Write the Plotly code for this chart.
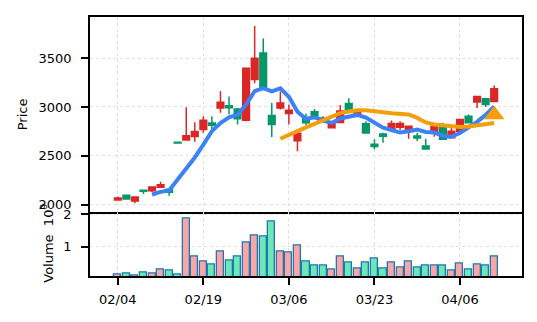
import plotly.graph_objects as go
from plotly.subplots import make_subplots
import pandas as pd

# ---- data ----
idx = list(range(45))
tick_pos = [0, 10, 20, 30, 40]
tick_labels = ["02/04", "02/19", "03/06", "03/23", "04/06"]

opens = [2050, 2098, 2040, 2150, 2145, 2180, 2160, 2640, 2662, 2697,
         2770, 2835, 2990, 3012, 2980, 2865, 3280, 3550, 2912, 2990,
         2933, 2655, 2888, 2950, 2888, 2787, 2840, 3035, 2916, 2828,
         2618, 2725, 2770, 2794, 2764, 2703, 2601, 2737, 2787, 2686,
         2753, 2905, 3051, 3084, 3057]
highs = [2085, 2102, 2083, 2155, 2185, 2236, 2165, 2642, 2997, 2845,
         2905, 2905, 3160, 3108, 2990, 3400, 3828, 3700, 3040, 3159,
         3024, 2770, 2932, 2980, 2905, 2855, 3020, 3088, 2970, 2855,
         2669, 2737, 2862, 2855, 2811, 2737, 2676, 2810, 2838, 2787,
         2880, 2922, 3110, 3090, 3220]
lows = [2045, 2055, 2017, 2112, 2132, 2175, 2092, 2628, 2655, 2645,
        2736, 2760, 2940, 2922, 2821, 2855, 3243, 3176, 2693, 2973,
        2821, 2548, 2814, 2882, 2838, 2787, 2835, 2950, 2910, 2730,
        2568, 2635, 2765, 2764, 2676, 2652, 2565, 2696, 2665, 2680,
        2750, 2835, 2990, 3000, 3050]
closes = [2070, 2060, 2080, 2138, 2182, 2205, 2128, 2632, 2705, 2750,
          2865, 2812, 3047, 2992, 2880, 3395, 3497, 3200, 2821, 3040,
          2966, 2732, 2838, 2895, 2868, 2850, 2960, 2952, 2963, 2735,
          2595, 2700, 2831, 2831, 2804, 2683, 2570, 2804, 2670, 2753,
          2872, 2838, 3108, 3024, 3186]
volumes_1e9 = [0.14, 0.18, 0.13, 0.21, 0.18, 0.30, 0.27, 0.15, 1.86, 0.70,
               0.55, 0.44, 0.85, 0.59, 0.70, 1.125, 1.34, 1.31, 1.78, 0.85,
               0.83, 1.05, 0.55, 0.42, 0.42, 0.30, 0.70, 0.52, 0.34, 0.52,
               0.65, 0.34, 0.52, 0.375, 0.55, 0.375, 0.41, 0.42, 0.41, 0.27,
               0.48, 0.30, 0.45, 0.41, 0.70]
signal_x = [44]
signal_y = [2920]

# moving averages of the close (as drawn in the reference)
close_s = pd.Series(closes, dtype=float)
ma5 = close_s.rolling(5).mean().tolist()
ma20 = close_s.rolling(20).mean().tolist()

UP = "#dc2626"
DOWN = "#059669"
UP_V = "#fca5a5"
DOWN_V = "#6ee7b7"
vol_colors = [UP_V if c >= o else DOWN_V for o, c in zip(opens, closes)]

fig = make_subplots(rows=2, cols=1, shared_xaxes=True, vertical_spacing=0,
                    row_heights=[0.751, 0.249])

fig.add_trace(go.Candlestick(
    x=idx, open=opens, high=highs, low=lows, close=closes,
    increasing=dict(line=dict(color=UP, width=1.5), fillcolor=UP),
    decreasing=dict(line=dict(color=DOWN, width=1.5), fillcolor=DOWN),
    whiskerwidth=0, showlegend=False, hoverinfo="skip"), row=1, col=1)

fig.add_trace(go.Scatter(x=idx, y=ma5, mode="lines",
                         line=dict(color="#3b82f6", width=4),
                         showlegend=False, hoverinfo="skip"), row=1, col=1)
fig.add_trace(go.Scatter(x=idx, y=ma20, mode="lines",
                         line=dict(color="#f59e0b", width=4),
                         showlegend=False, hoverinfo="skip"), row=1, col=1)
fig.add_trace(go.Scatter(x=signal_x, y=signal_y, mode="markers",
                         marker=dict(symbol="triangle-up", size=18,
                                     color="#f59e0b", line=dict(width=0)),
                         showlegend=False, hoverinfo="skip"), row=1, col=1)

fig.add_trace(go.Bar(x=idx, y=volumes_1e9, marker=dict(
    color=vol_colors, line=dict(color="#1f77b4", width=1.3)),
    width=0.82, showlegend=False, hoverinfo="skip"), row=2, col=1)

font = dict(family="DejaVu Sans", size=13, color="black")
axis_common = dict(showline=True, linecolor="black", linewidth=1.5,
                   showgrid=True, gridcolor="#e0e0e0", gridwidth=1, griddash="dot",
                   zeroline=False, tickfont=font, tickcolor="black",
                   tickwidth=1.5)

fig.update_xaxes(**axis_common, range=[-3.25, 47.25], tickvals=tick_pos,
                 ticktext=tick_labels, rangeslider=dict(visible=False))
fig.update_xaxes(showticklabels=False, ticks="", mirror=True, row=1, col=1)
fig.update_xaxes(ticks="outside", ticklen=7, ticklabelstandoff=4, mirror=False,
                 row=2, col=1)

fig.update_yaxes(**axis_common, mirror=True, ticks="outside", ticklen=7,
                 ticklabelstandoff=7)
fig.update_yaxes(range=[1932, 3919], tickvals=[2000, 2500, 3000, 3500], row=1, col=1)
fig.update_yaxes(range=[0.10, 2.09], tickvals=[1, 2], row=2, col=1)

fig.add_annotation(text="Price", xref="paper", yref="paper", x=0, y=0.6245,
                   xshift=-68, textangle=-90, showarrow=False, font=font,
                   xanchor="center", yanchor="middle")
fig.add_annotation(text="Volume  10<sup>9</sup>", xref="paper", yref="paper",
                   x=0, y=0.1245, xshift=-43, textangle=-90, showarrow=False,
                   font=font, xanchor="center", yanchor="middle")

fig.update_layout(width=537, height=322, margin=dict(l=90, r=15, t=15, b=46),
                  paper_bgcolor="white", plot_bgcolor="white",
                  boxgap=0.22, boxgroupgap=0, bargap=0, font=font)

fig.write_html("out.html")
